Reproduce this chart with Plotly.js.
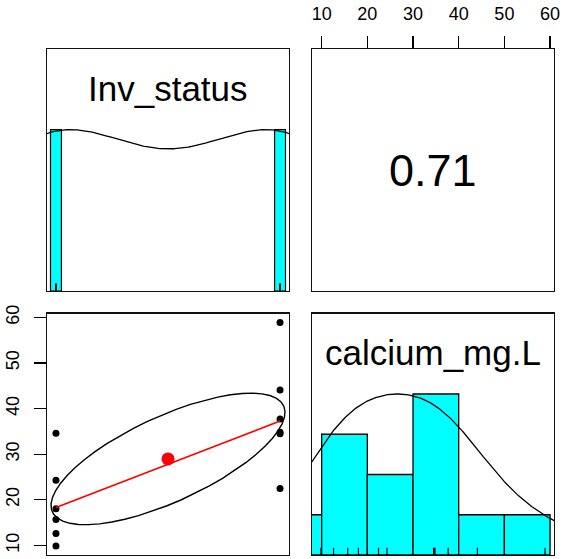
<!DOCTYPE html>
<html><head><meta charset="utf-8">
<script src="https://cdn.plot.ly/plotly-3.0.1.min.js"></script>
<style>html,body{margin:0;padding:0;background:#fff}</style>
</head><body><div id="plot" style="width:564px;height:559px"></div>
<script>
// ---- data ----
const varNames = ["Inv_status", "calcium_mg.L"];
const invStatus = [0, 0, 0, 0, 0, 0, 1, 1, 1, 1, 1, 1];
const calcium = [34.6, 24.3, 18.05, 15.7, 12.6, 9.85, 58.9, 44.1, 37.7, 34.5, 34.8, 22.45];
const calciumTicks = [10, 20, 30, 40, 50, 60];
const histBreaks = [0, 10, 20, 30, 40, 50, 60];

// ---- helpers (R-like statistics computed from the data) ----
function mean(a){return a.reduce((s,v)=>s+v,0)/a.length;}
function sd(a){const m=mean(a);return Math.sqrt(a.reduce((s,v)=>s+(v-m)*(v-m),0)/(a.length-1));}
function cor(a,b){const ma=mean(a),mb=mean(b);let sab=0,saa=0,sbb=0;for(let i=0;i<a.length;i++){sab+=(a[i]-ma)*(b[i]-mb);saa+=(a[i]-ma)**2;sbb+=(b[i]-mb)**2;}return sab/Math.sqrt(saa*sbb);}
function quantile7(a,p){const s=[...a].sort((x,y)=>x-y);const h=(s.length-1)*p;const lo=Math.floor(h),hi=Math.ceil(h);return s[lo]+(h-lo)*(s[hi]-s[lo]);}
function bwNrd(a){const r=quantile7(a,0.75)-quantile7(a,0.25);return 1.06*Math.min(sd(a),r/1.34)*Math.pow(a.length,-0.2);}
function density(a,adjust){
  const bw=bwNrd(a)*adjust, lo=Math.min(...a)-3*bw, hi=Math.max(...a)+3*bw, n=512;
  const xs=[],ys=[];
  for(let i=0;i<n;i++){const x=lo+(hi-lo)*i/(n-1);let s=0;for(const v of a){const z=(x-v)/bw;s+=Math.exp(-0.5*z*z);}xs.push(x);ys.push(s);}
  const m=Math.max(...ys);return {x:xs,y:ys.map(v=>v/m)};
}
function extRange(a){const lo=Math.min(...a),hi=Math.max(...a),d=hi-lo;return [lo-0.04*d,hi+0.04*d];}
function lowess(xIn,yIn,f,nsteps){
  const n=xIn.length;
  const idx=xIn.map((v,i)=>i).sort((a,b)=>(xIn[a]-xIn[b])||(a-b));
  const x=[NaN],y=[NaN];idx.forEach(i=>{x.push(xIn[i]);y.push(yIn[i]);});
  const ys=new Array(n+1).fill(0),rw=new Array(n+1).fill(1),res=new Array(n+1).fill(0),w=new Array(n+1).fill(0);
  const delta=0.01*(x[n]-x[1]);
  const ns=Math.max(2,Math.min(n,Math.floor(f*n+1e-7)));
  const range=x[n]-x[1];
  function lowest(xs,nleft,nright,userw){
    const h=Math.max(xs-x[nleft],x[nright]-xs),h9=0.999*h,h1=0.001*h;
    let a=0,j=nleft;
    while(j<=n){
      w[j]=0;const r=Math.abs(x[j]-xs);
      if(r<=h9){w[j]=(r<=h1)?1:Math.pow(1-Math.pow(r/h,3),3);if(userw)w[j]*=rw[j];a+=w[j];}
      else if(x[j]>xs)break;
      j++;
    }
    const nrt=j-1;
    if(a<=0)return null;
    for(j=nleft;j<=nrt;j++)w[j]/=a;
    if(h>0){
      a=0;for(j=nleft;j<=nrt;j++)a+=w[j]*x[j];
      let b=xs-a,c=0;for(j=nleft;j<=nrt;j++)c+=w[j]*(x[j]-a)*(x[j]-a);
      if(Math.sqrt(c)>0.001*range){b/=c;for(j=nleft;j<=nrt;j++)w[j]*=(b*(x[j]-a)+1);}
    }
    let out=0;for(j=nleft;j<=nrt;j++)out+=w[j]*y[j];return out;
  }
  let iter=1;
  while(iter<=nsteps+1){
    let nleft=1,nright=ns,last=0,i=1;
    for(;;){
      if(nright<n){const d1=x[i]-x[nleft],d2=x[nright+1]-x[i];if(d1>d2){nleft++;nright++;continue;}}
      const v=lowest(x[i],nleft,nright,iter>1);ys[i]=(v===null)?y[i]:v;
      if(last<i-1){const den=x[i]-x[last];for(let j=last+1;j<i;j++){const al=(x[j]-x[last])/den;ys[j]=al*ys[i]+(1-al)*ys[last];}}
      last=i;const cut=x[last]+delta;
      for(i=last+1;i<=n;i++){if(x[i]>cut)break;if(x[i]===x[last]){ys[i]=ys[last];last=i;}}
      i=Math.max(last+1,i-1);
      if(last>=n)break;
    }
    for(let k=1;k<=n;k++)res[k]=y[k]-ys[k];
    let sc=0;for(let k=1;k<=n;k++)sc+=Math.abs(res[k]);sc/=n;
    if(iter>nsteps)break;
    const ar=[];for(let k=1;k<=n;k++)ar.push(Math.abs(res[k]));ar.sort((p,q)=>p-q);
    const m1=Math.floor(n/2);
    const cmad=(n%2===0)?3*(ar[m1]+ar[n-m1-1]):6*ar[m1];
    if(cmad<1e-7*sc)break;
    const c9=0.999*cmad,c1=0.001*cmad;
    for(let k=1;k<=n;k++){const r=Math.abs(res[k]);rw[k]=r<=c1?1:(r<=c9?Math.pow(1-Math.pow(r/cmad,2),2):0);}
    iter++;
  }
  return {x:x.slice(1),y:ys.slice(1)};
}
function ellipse(xm,ym,xs,ys,r,segs){
  const th=Math.abs(r)>0?Math.sign(r)/Math.SQRT2:1/Math.SQRT2,s1=Math.sqrt(1+r),s2=Math.sqrt(1-r);
  const ex=[],ey=[];
  for(let k=0;k<=segs;k++){const a=k*2*Math.PI/segs,c=Math.cos(a),s=Math.sin(a);
    ex.push((c*s1*th - s*s2*th)*xs+xm);ey.push((c*s1*th + s*s2*th)*ys+ym);}
  return {x:ex,y:ey};
}
function rugPts(a,h){const x=[],y=[];a.forEach(v=>{x.push(v,v,null);y.push(0,h,null);});return {x,y};}

// ---- derived quantities ----
const invRange=extRange(invStatus), calRange=extRange(calcium);
const invVals=[...new Set(invStatus)].sort((a,b)=>a-b);
const invCounts=invVals.map(v=>invStatus.filter(u=>u===v).length);
const invMax=Math.max(...invCounts);
const interbreak=Math.min(...invVals.slice(1).map((v,i)=>v-invVals[i]))*(invVals.length-1)/41;
const histCounts=histBreaks.slice(0,-1).map((b,k)=>calcium.filter(v=>(k===0?v>=b:v>b)&&v<=histBreaks[k+1]).length);
const histMax=Math.max(...histCounts);
const histMids=histBreaks.slice(0,-1).map((b,k)=>(b+histBreaks[k+1])/2);
const histW=histBreaks.slice(0,-1).map((b,k)=>histBreaks[k+1]-b);
const dInv=density(invStatus,1.2), dCal=density(calcium,1.2);
const r=cor(invStatus,calcium);
const lw=lowess(invStatus,calcium,2/3,3);
const el=ellipse(mean(invStatus),mean(calcium),sd(invStatus),sd(calcium),r,51);
const rugH=0.03*1.5;

const CYAN='#00FFFF', FONT='Liberation Sans, Arial, Helvetica, sans-serif';
const traces=[
  // panel 1: Inv_status diagonal
  {type:'bar',x:invVals,y:invCounts.map(c=>c/invMax),width:invVals.map(()=>2*interbreak),marker:{color:CYAN,line:{color:'#000',width:1.2}},xaxis:'x',yaxis:'y',hoverinfo:'skip'},
  {type:'scatter',mode:'lines',x:dInv.x,y:dInv.y,line:{color:'#000',width:1.3},xaxis:'x',yaxis:'y',hoverinfo:'skip'},
  Object.assign({type:'scatter',mode:'lines',line:{color:'#000',width:1},xaxis:'x',yaxis:'y',hoverinfo:'skip'},rugPts(invStatus,rugH)),
  // panel 2: correlation (invisible holder so the subplot is drawn)
  {type:'scatter',mode:'markers',x:[calcium[0]],y:[invStatus[0]],marker:{opacity:0},xaxis:'x2',yaxis:'y2',hoverinfo:'skip'},
  // panel 4: calcium diagonal
  {type:'bar',x:histMids,y:histCounts.map(c=>c/histMax),width:histW,marker:{color:CYAN,line:{color:'#000',width:1.3}},xaxis:'x4',yaxis:'y4',hoverinfo:'skip'},
  {type:'scatter',mode:'lines',x:dCal.x,y:dCal.y,line:{color:'#000',width:1.3},xaxis:'x4',yaxis:'y4',hoverinfo:'skip'},
  Object.assign({type:'scatter',mode:'lines',line:{color:'#000',width:1.2},xaxis:'x4',yaxis:'y4',hoverinfo:'skip'},rugPts(calcium,rugH)),
  // panel 3: scatter
  {type:'scatter',mode:'markers',x:invStatus,y:calcium,marker:{color:'#000',size:7},xaxis:'x3',yaxis:'y3',hoverinfo:'skip'},
  {type:'scatter',mode:'lines',x:lw.x,y:lw.y,line:{color:'#FF0000',width:1.7},xaxis:'x3',yaxis:'y3',hoverinfo:'skip'},
  {type:'scatter',mode:'markers',x:[mean(invStatus)],y:[mean(calcium)],marker:{color:'#FF0000',size:13},xaxis:'x3',yaxis:'y3',hoverinfo:'skip'},
  {type:'scatter',mode:'lines',x:el.x,y:el.y,line:{color:'#000',width:1.4},xaxis:'x3',yaxis:'y3',hoverinfo:'skip'}
];

const W=564,H=559;
const colA=[47/W,289/W], colB=[312/W,554/W];
const rowTop=[1-291/H,1-49/H], rowBot=[1-555/H,1-313.5/H];
const base={showgrid:false,zeroline:false,showline:true,mirror:true,linecolor:'#111',linewidth:1.3,ticks:'',showticklabels:false,fixedrange:true};
const tickStyle={ticks:'outside',ticklen:12,tickwidth:1.2,tickcolor:'#000',tickmode:'array',tickvals:calciumTicks,ticktext:calciumTicks.map(String),showticklabels:true,tickfont:{family:FONT,size:18,color:'#000'}};
const layout={
  width:W,height:H,margin:{l:0,r:0,t:0,b:0},showlegend:false,paper_bgcolor:'#fff',plot_bgcolor:'#fff',
  xaxis:Object.assign({},base,{domain:colA,range:invRange,anchor:'y'}),
  yaxis:Object.assign({},base,{domain:rowTop,range:[0,1.5],anchor:'x'}),
  xaxis2:Object.assign({},base,tickStyle,{domain:colB,range:calRange,anchor:'y2',side:'top',ticklabelstandoff:9}),
  yaxis2:Object.assign({},base,{domain:rowTop,range:invRange,anchor:'x2'}),
  xaxis3:Object.assign({},base,{domain:colA,range:invRange,anchor:'y3'}),
  yaxis3:Object.assign({},base,tickStyle,{domain:rowBot,range:calRange,anchor:'x3',tickangle:-90,ticklabelstandoff:8}),
  xaxis4:Object.assign({},base,{domain:colB,range:calRange,anchor:'y4'}),
  yaxis4:Object.assign({},base,{domain:rowBot,range:[0,1.5],anchor:'x4'}),
  annotations:[
    {text:varNames[0],xref:'paper',yref:'paper',x:(colA[0]+colA[1])/2,y:rowTop[1]-(39/242)*(rowTop[1]-rowTop[0]),xanchor:'center',yanchor:'middle',showarrow:false,font:{family:FONT,size:35,color:'#000'}},
    {text:varNames[1],xref:'paper',yref:'paper',x:(colB[0]+colB[1])/2,y:rowBot[1]-(39.5/242)*(rowBot[1]-rowBot[0]),xanchor:'center',yanchor:'middle',showarrow:false,font:{family:FONT,size:35,color:'#000'}},
    {text:r.toFixed(2),xref:'paper',yref:'paper',x:(colB[0]+colB[1])/2,y:(rowTop[0]+rowTop[1])/2,xanchor:'center',yanchor:'middle',showarrow:false,font:{family:FONT,size:45,color:'#000'}}
  ]
};
Plotly.newPlot('plot',traces,layout,{staticPlot:true,displayModeBar:false});
</script></body></html>
